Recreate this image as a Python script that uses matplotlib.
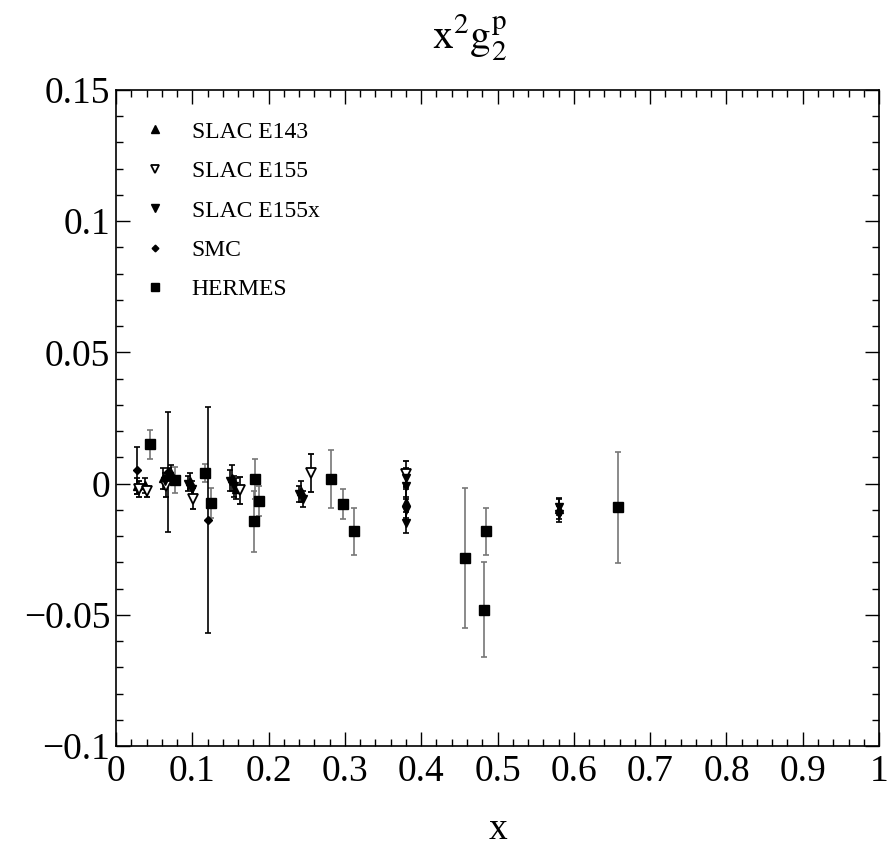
import numpy as np
import matplotlib.pyplot as plt
from matplotlib.ticker import MultipleLocator, FuncFormatter

plt.rcParams["font.family"] = ["Liberation Serif", "DejaVu Serif"]
plt.rcParams["mathtext.fontset"] = "stix"

# SLAC E143
e143_x = [0.027, 0.038, 0.062, 0.072, 0.097, 0.152, 0.157, 0.243, 0.380, 0.580]
e143_y = [-0.001, -0.0007, 0.002, 0.004, 0.001, 0.002, -0.002, -0.003, -0.007, -0.0095]
e143_err = [0.003, 0.003, 0.004, 0.003, 0.003, 0.005, 0.004, 0.004, 0.006, 0.004]

# SLAC E155
e155_x = [0.030, 0.040, 0.066, 0.101, 0.163, 0.256, 0.380]
e155_y = [-0.002, -0.003, -0.001, -0.0058, -0.0026, 0.0041, 0.0037]
e155_err = [0.003, 0.002, 0.004, 0.004, 0.005, 0.0072, 0.005]

# SLAC E155x
e155x_x = [0.064, 0.070, 0.095, 0.100, 0.150, 0.155, 0.240, 0.245,
           0.380, 0.380, 0.380, 0.380, 0.580, 0.580]
e155x_y = [0.001, 0.003, 0.000, -0.002, 0.001, -0.001, -0.004, -0.006,
           0.002, -0.001, -0.010, -0.015, -0.009, -0.0115]
e155x_err = [0.003, 0.003, 0.003, 0.003, 0.004, 0.004, 0.003, 0.003,
             0.004, 0.004, 0.004, 0.004, 0.003, 0.003]

# SMC
smc_x = [0.027, 0.068, 0.121]
smc_y = [0.005, 0.0045, -0.0138]
smc_err = [0.009, 0.0228, 0.043]

# HERMES
hermes_x = [0.044, 0.077, 0.117, 0.1245, 0.181, 0.182, 0.1875, 0.282,
            0.298, 0.312, 0.458, 0.482, 0.4845, 0.658]
hermes_y = [0.015, 0.0015, 0.004, -0.0074, -0.0144, 0.0018, -0.0068, 0.0017,
            -0.0077, -0.0182, -0.0284, -0.048, -0.0182, -0.009]
hermes_err = [0.0056, 0.005, 0.0034, 0.0057, 0.0117, 0.0075, 0.0057, 0.0111,
              0.0057, 0.0089, 0.0267, 0.018, 0.0089, 0.0211]

fig = plt.figure(figsize=(8.95, 8.52), dpi=100)
ax = fig.add_axes([0.1296, 0.1244, 0.8526, 0.77])

eb = dict(linestyle="none", capsize=2.5, elinewidth=1.2, capthick=1.2)
ax.errorbar(hermes_x, hermes_y, yerr=hermes_err, fmt="s", color="black",
            ecolor="#777777", ms=7, label="HERMES", zorder=3, **eb)
ax.errorbar(smc_x, smc_y, yerr=smc_err, fmt="D", color="black", ecolor="black",
            ms=4, label="SMC", zorder=4, **eb)
ax.errorbar(e143_x, e143_y, yerr=e143_err, fmt="^", color="black", ecolor="black",
            ms=6, label="SLAC E143", zorder=4, **eb)
ax.errorbar(e155_x, e155_y, yerr=e155_err, fmt="v", color="black", ecolor="black",
            mfc="white", mew=1.3, ms=7, label="SLAC E155", zorder=4, **eb)
ax.errorbar(e155x_x, e155x_y, yerr=e155x_err, fmt="v", color="black", ecolor="black",
            ms=6, label="SLAC E155x", zorder=4, **eb)

ax.set_xlim(0, 1)
ax.set_ylim(-0.1, 0.15)

ax.xaxis.set_major_locator(MultipleLocator(0.1))
ax.xaxis.set_minor_locator(MultipleLocator(0.02))
ax.yaxis.set_major_locator(MultipleLocator(0.05))
ax.yaxis.set_minor_locator(MultipleLocator(0.01))

fmt = FuncFormatter(lambda v, p: ("%g" % round(v, 4)).replace("-", "\u2212"))
ax.xaxis.set_major_formatter(fmt)
ax.yaxis.set_major_formatter(fmt)

ax.tick_params(which="both", direction="in", top=True, right=True, width=1,
               labelsize=27)
ax.tick_params(which="major", length=10)
ax.tick_params(which="minor", length=5)
ax.tick_params(axis="x", pad=6)
ax.tick_params(axis="y", pad=4)
for s in ax.spines.values():
    s.set_linewidth(1.2)

fig.text(0.525, 0.955, r"$\mathrm{x^{2}g_{2}^{p}}$", fontsize=30,
         ha="center", va="center")
ax.set_xlabel("x", fontsize=27, labelpad=17)

handles, labels = ax.get_legend_handles_labels()
order = ["SLAC E143", "SLAC E155", "SLAC E155x", "SMC", "HERMES"]
hmap = dict(zip(labels, handles))
ax.legend([hmap[k][0] for k in order], order, loc="upper left",
          bbox_to_anchor=(0.005, 0.985), frameon=False, fontsize=17,
          handlelength=1.2, handletextpad=0.95, labelspacing=0.76,
          markerscale=0.85)

fig.savefig("out.png", dpi=100)
